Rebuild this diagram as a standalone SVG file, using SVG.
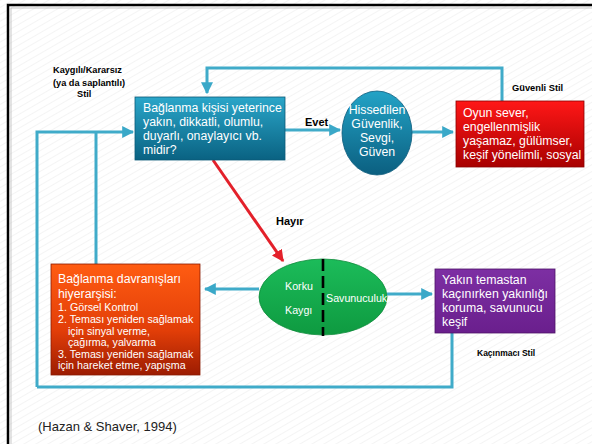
<svg xmlns="http://www.w3.org/2000/svg" width="592" height="444" viewBox="0 0 592 444">
<defs>
<pattern id="hatch" width="6" height="6" patternUnits="userSpaceOnUse" patternTransform="rotate(60)">
<rect width="6" height="6" fill="#ffffff"/>
<line x1="0" y1="0" x2="0" y2="6" stroke="#f1f1f1" stroke-width="1.5"/>
</pattern>
<linearGradient id="gBlue" x1="0" y1="0" x2="0" y2="1">
<stop offset="0" stop-color="#2aa6c9"/><stop offset="1" stop-color="#0a6282"/>
</linearGradient>
<linearGradient id="gEll" x1="0" y1="0" x2="0" y2="1">
<stop offset="0" stop-color="#23a3c6"/><stop offset="1" stop-color="#0b5f80"/>
</linearGradient>
<linearGradient id="gRed" x1="0" y1="0" x2="0" y2="1">
<stop offset="0" stop-color="#ff1717"/><stop offset="1" stop-color="#a80000"/>
</linearGradient>
<linearGradient id="gOrange" x1="0" y1="0" x2="0" y2="1">
<stop offset="0" stop-color="#ff5c12"/><stop offset="0.6" stop-color="#e23e08"/><stop offset="1" stop-color="#9c1c02"/>
</linearGradient>
<linearGradient id="gPurple" x1="0" y1="0" x2="0" y2="1">
<stop offset="0" stop-color="#7d2fa3"/><stop offset="1" stop-color="#6a1f8d"/>
</linearGradient>
<linearGradient id="gGreen" x1="0" y1="0" x2="0" y2="1">
<stop offset="0" stop-color="#1cbc5a"/><stop offset="1" stop-color="#0e9a40"/>
</linearGradient>
<marker id="ab" viewBox="0 0 10 10" refX="9" refY="5" markerWidth="4" markerHeight="4" orient="auto" markerUnits="strokeWidth">
<path d="M0,0 L10,5 L0,10 Z" fill="#3aa8c8"/>
</marker>
<marker id="ar" viewBox="0 0 10 10" refX="9" refY="5" markerWidth="4" markerHeight="4" orient="auto" markerUnits="strokeWidth">
<path d="M0,0 L10,5 L0,10 Z" fill="#e3202a"/>
</marker>
</defs>
<style>
.c{fill:none;stroke:#40abc9;stroke-width:3;}
.box{font-family:"Liberation Sans",Arial,sans-serif;font-size:12.3px;fill:#ffffff;}
.sm{font-family:"Liberation Sans",Arial,sans-serif;font-size:10.7px;fill:#ffffff;}
.lbl{font-family:"Liberation Sans",Arial,sans-serif;font-weight:bold;fill:#000000;}
</style>
<rect x="0" y="0" width="592" height="444" fill="url(#hatch)"/>
<rect x="8" y="5" width="620" height="460" fill="none" stroke="#000" stroke-width="2.5"/>
<rect x="11" y="8" width="620" height="460" fill="none" stroke="#bbb" stroke-width="0.8"/>

<g id="connectors">
<path class="c" d="M502,101 V68 H207 V93" marker-end="url(#ab)"/>
<path class="c" d="M37,387 V132 H133" marker-end="url(#ab)"/>
<path class="c" d="M96,264 V132"/>
<path class="c" d="M452,333 V387 H37"/>
<path class="c" d="M285,130 H340" marker-end="url(#ab)"/>
<path class="c" d="M412,132 H453" marker-end="url(#ab)"/>
<path class="c" d="M259,289 H205" marker-end="url(#ab)"/>
<path class="c" d="M387,294 H432" marker-end="url(#ab)"/>
<path d="M213,160 L283,261" fill="none" stroke="#e3202a" stroke-width="3" marker-end="url(#ar)"/>
<text class="lbl" x="305" y="126" font-size="11">Evet</text>
<text class="lbl" x="276" y="225" font-size="11">Hayır</text>
</g>

<g id="n-question">
<rect x="135" y="97" width="150" height="63" fill="url(#gBlue)" stroke="#0a5a78" stroke-width="0.8"/>
<text class="box"><tspan x="143" y="112">Bağlanma kişisi yeterince</tspan><tspan x="143" y="126">yakın, dikkatli, olumlu,</tspan><tspan x="143" y="140">duyarlı, onaylayıcı  vb.</tspan><tspan x="143" y="154">midir?</tspan></text>
</g>

<g id="n-felt">
<ellipse cx="377" cy="133" rx="35" ry="42" fill="url(#gEll)" stroke="#0c5c7c" stroke-width="0.8"/>
<text class="box" text-anchor="middle"><tspan x="377" y="114">Hissedilen</tspan><tspan x="377" y="128">Güvenlik,</tspan><tspan x="377" y="142">Sevgi,</tspan><tspan x="377" y="156">Güven</tspan></text>
</g>

<g id="n-secure">
<rect x="456" y="101" width="128" height="66" fill="url(#gRed)" stroke="#8a0000" stroke-width="0.8"/>
<text class="box"><tspan x="463" y="117">Oyun sever,</tspan><tspan x="463" y="131">engellenmişlik</tspan><tspan x="463" y="145">yaşamaz, gülümser,</tspan><tspan x="463" y="159">keşif yönelimli, sosyal</tspan></text>
<text class="lbl" x="512" y="91" font-size="9.3">Güvenli Stil</text>
</g>

<g id="n-anxious-label">
<text class="lbl" font-size="9.2"><tspan x="53" y="73">Kaygılı/Kararsız</tspan><tspan x="53" y="86">(ya da saplantılı)</tspan><tspan x="77" y="97">Stil</tspan></text>
</g>

<g id="n-hierarchy">
<rect x="51" y="264" width="149" height="111" fill="url(#gOrange)" stroke="#8a1a00" stroke-width="0.8"/>
<text class="box"><tspan x="58" y="283">Bağlanma davranışları</tspan><tspan x="58" y="298">hiyerarşisi:</tspan></text>
<text class="sm"><tspan x="58" y="311">1. Görsel Kontrol</tspan><tspan x="58" y="323">2. Teması yeniden sağlamak</tspan><tspan x="68" y="335">için sinyal verme,</tspan><tspan x="68" y="346">çağırma, yalvarma</tspan><tspan x="58" y="358">3. Teması yeniden sağlamak</tspan><tspan x="58" y="369">için hareket etme, yapışma</tspan></text>
</g>

<g id="n-fear">
<ellipse cx="323" cy="297" rx="64" ry="38" fill="url(#gGreen)" stroke="#0b8a38" stroke-width="0.8"/>
<line x1="323" y1="259" x2="323" y2="336" stroke="#000" stroke-width="2.6" stroke-dasharray="12,5"/>
<text class="sm" font-size="10"><tspan x="285" y="290">Korku</tspan><tspan x="285" y="314">Kaygı</tspan></text>
<text class="sm" x="326" y="302" font-size="10.2">Savunuculuk</text>
</g>

<g id="n-avoidant">
<rect x="435" y="269" width="120" height="64" fill="url(#gPurple)" stroke="#4e1268" stroke-width="0.8"/>
<text class="box"><tspan x="442" y="284">Yakın temastan</tspan><tspan x="442" y="298">kaçınırken yakınlığı</tspan><tspan x="442" y="312">koruma, savunucu</tspan><tspan x="442" y="326">keşif</tspan></text>
<text class="lbl" x="477" y="356" font-size="8.5">Kaçınmacı Stil</text>
</g>

<g id="citation">
<text x="38" y="431" font-family="Liberation Sans, Arial, sans-serif" font-size="13" fill="#222">(Hazan &amp; Shaver, 1994)</text>
</g>
</svg>
